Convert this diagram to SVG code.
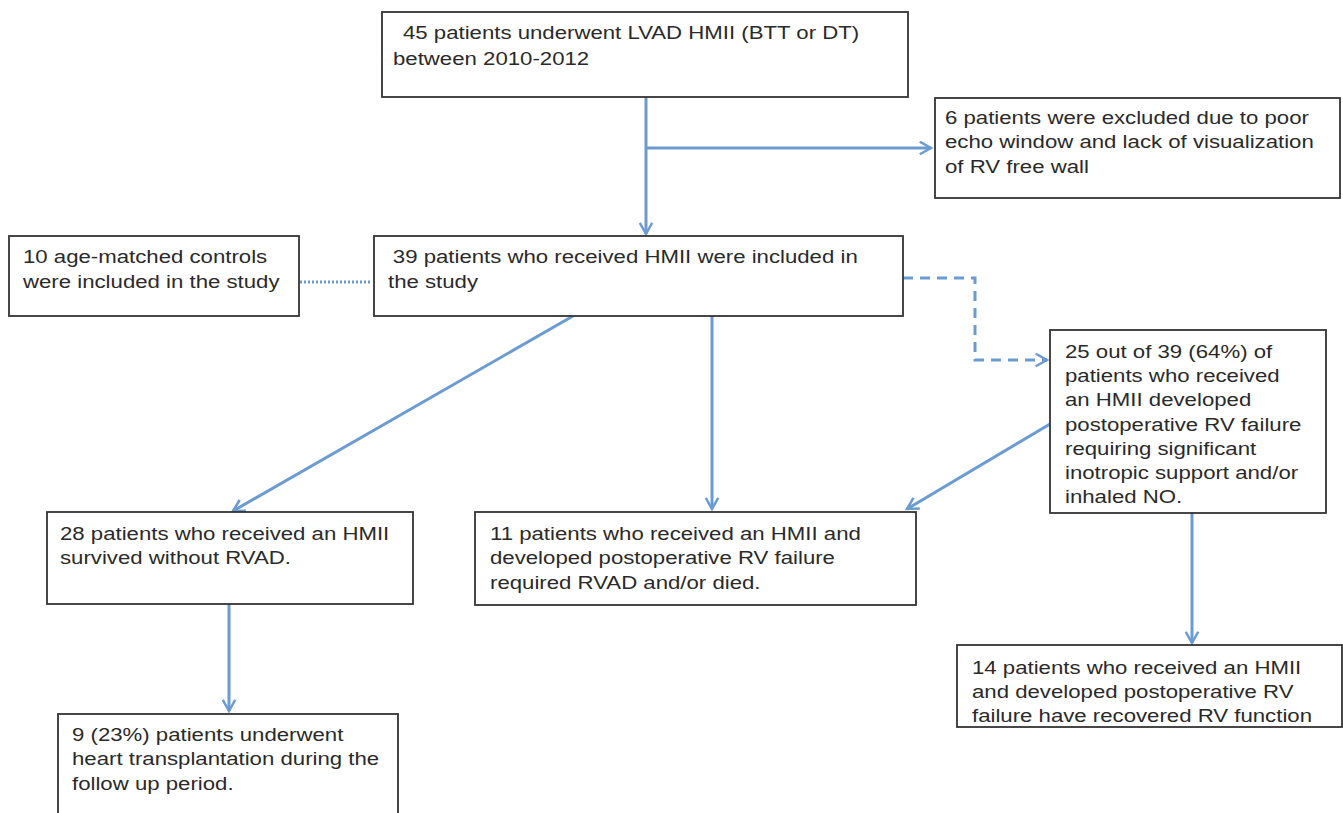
<svg xmlns="http://www.w3.org/2000/svg" width="1343" height="813" viewBox="0 0 1343 813">
<style>
.box{fill:#fff;stroke:#333;stroke-width:1.8}
.t{font-family:"Liberation Sans",Arial,sans-serif;font-size:18.5px;fill:#2a2a2a}
.c{fill:none;stroke:#6b9bd1;stroke-width:3}
</style>
<defs>
<marker id="ah" viewBox="0 0 12 12" refX="10" refY="6" markerWidth="5" markerHeight="5" markerUnits="strokeWidth" orient="auto">
<path d="M1,1 L10,6 L1,11" fill="none" stroke="#6b9bd1" stroke-width="2"/>
</marker>
</defs>
<rect width="1343" height="813" fill="#fff"/>
<g id="connectors">
<path class="c" d="M646,97 V234" marker-end="url(#ah)"/>
<path class="c" d="M646,148 H931" marker-end="url(#ah)"/>
<path class="c" d="M300,282 H372" stroke-dasharray="2,2"/>
<path class="c" d="M903,278 H975 V360 H1047" stroke-dasharray="10,7" marker-end="url(#ah)"/>
<path class="c" d="M573,316 L233,511" marker-end="url(#ah)"/>
<path class="c" d="M712,316 V509" marker-end="url(#ah)"/>
<path class="c" d="M1050,424 L907,509" marker-end="url(#ah)"/>
<path class="c" d="M1192,513 V643" marker-end="url(#ah)"/>
<path class="c" d="M229,604 V711" marker-end="url(#ah)"/>
</g>
<g id="n1"><rect class="box" x="382" y="12" width="526" height="85"/>
<g transform="translate(393,0) scale(1.2,1)"><text class="t" x="8.3" y="39">45 patients underwent LVAD HMII (BTT or DT)</text>
<text class="t" x="0" y="65">between 2010-2012</text></g></g>
<g id="n2"><rect class="box" x="935" y="98" width="405" height="100"/>
<g transform="translate(945,0) scale(1.2,1)"><text class="t" x="0" y="124">6 patients were excluded due to poor</text>
<text class="t" x="0" y="148">echo window and lack of visualization</text>
<text class="t" x="0" y="173">of RV free wall</text></g></g>
<g id="n3"><rect class="box" x="9" y="236" width="290" height="80"/>
<g transform="translate(23,0) scale(1.2,1)"><text class="t" x="0" y="263">10 age-matched controls</text>
<text class="t" x="0" y="288">were included in the study</text></g></g>
<g id="n4"><rect class="box" x="374" y="236" width="529" height="80"/>
<g transform="translate(388,0) scale(1.2,1)"><text class="t" x="4" y="263">39 patients who received HMII were included in</text>
<text class="t" x="0" y="288">the study</text></g></g>
<g id="n5"><rect class="box" x="1050" y="330" width="276" height="183"/>
<g transform="translate(1065,0) scale(1.2,1)"><text class="t" x="0" y="358">25 out of 39 (64%) of</text>
<text class="t" x="0" y="382">patients who received</text>
<text class="t" x="0" y="406">an HMII developed</text>
<text class="t" x="0" y="431">postoperative RV failure</text>
<text class="t" x="0" y="455">requiring significant</text>
<text class="t" x="0" y="479">inotropic support and/or</text>
<text class="t" x="0" y="503">inhaled NO.</text></g></g>
<g id="n6"><rect class="box" x="47" y="512" width="366" height="92"/>
<g transform="translate(60,0) scale(1.2,1)"><text class="t" x="0" y="540">28 patients who received an HMII</text>
<text class="t" x="0" y="564">survived without RVAD.</text></g></g>
<g id="n7"><rect class="box" x="475" y="512" width="441" height="93"/>
<g transform="translate(490,0) scale(1.2,1)"><text class="t" x="0" y="540">11 patients who received an HMII and</text>
<text class="t" x="0" y="564">developed postoperative RV failure</text>
<text class="t" x="0" y="589">required RVAD and/or died.</text></g></g>
<g id="n8"><rect class="box" x="957" y="645" width="385" height="82"/>
<g transform="translate(972,0) scale(1.2,1)"><text class="t" x="0" y="674">14 patients who received an HMII</text>
<text class="t" x="0" y="698">and developed postoperative RV</text>
<text class="t" x="0" y="722">failure have recovered RV function</text></g></g>
<g id="n9"><rect class="box" x="58" y="714" width="340" height="110"/>
<g transform="translate(72,0) scale(1.2,1)"><text class="t" x="0" y="741">9 (23%) patients underwent</text>
<text class="t" x="0" y="765">heart transplantation during the</text>
<text class="t" x="0" y="790">follow up period.</text></g></g>
</svg>
